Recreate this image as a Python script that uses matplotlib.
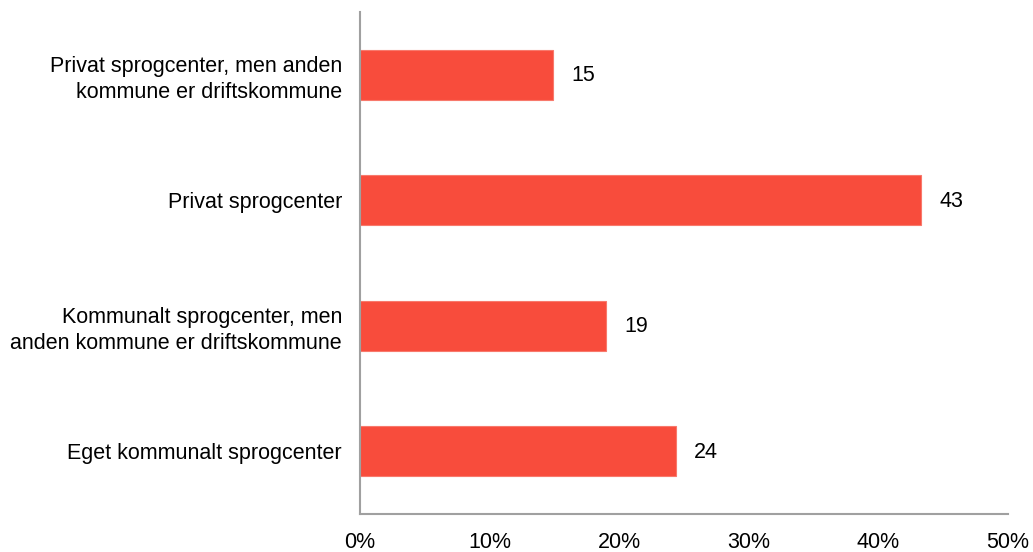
import matplotlib
matplotlib.use("Agg")
import matplotlib.pyplot as plt
from matplotlib.ticker import FuncFormatter

categories = [
    "Privat sprogcenter, men anden\nkommune er driftskommune",
    "Privat sprogcenter",
    "Kommunalt sprogcenter, men\nanden kommune er driftskommune",
    "Eget kommunalt sprogcenter",
]
values = [14.9, 43.3, 19.0, 24.4]
value_labels = ["15", "43", "19", "24"]
xticks = [0, 10, 20, 30, 40, 50]

plt.rcParams['font.family'] = ['Liberation Sans', 'DejaVu Sans']
FS = 15.5

fig = plt.figure(figsize=(10.33, 5.52), dpi=100)
ax = fig.add_axes([360/1033, 1 - 514/552, (1008-360)/1033, (514-12)/552])

ypos = list(range(len(categories)))
ax.barh(ypos, values, height=0.4, color="#F84C3C", edgecolor="#F8796C", linewidth=0.8)
for y, v, lab in zip(ypos, values, value_labels):
    ax.annotate(lab, (v, y), xytext=(18, -1), textcoords="offset pixels",
                va="center", ha="left", fontsize=FS, color="#000000")

ax.set_yticks(ypos)
ax.set_yticklabels(categories, fontsize=FS, linespacing=1.3)
ax.set_ylim(len(categories) - 0.5, -0.5)
ax.set_xlim(0, 50)
ax.set_xticks(xticks)
ax.xaxis.set_major_formatter(FuncFormatter(lambda x, p: f"{x:.0f}%"))
ax.tick_params(axis="x", length=0, labelsize=FS, pad=13)
ax.tick_params(axis="y", length=0, pad=13)
for s in ["top", "right"]:
    ax.spines[s].set_visible(False)
for s in ["left", "bottom"]:
    ax.spines[s].set_color("#A0A0A0")
    ax.spines[s].set_linewidth(1.5)

fig.savefig("out.png", dpi=100)
